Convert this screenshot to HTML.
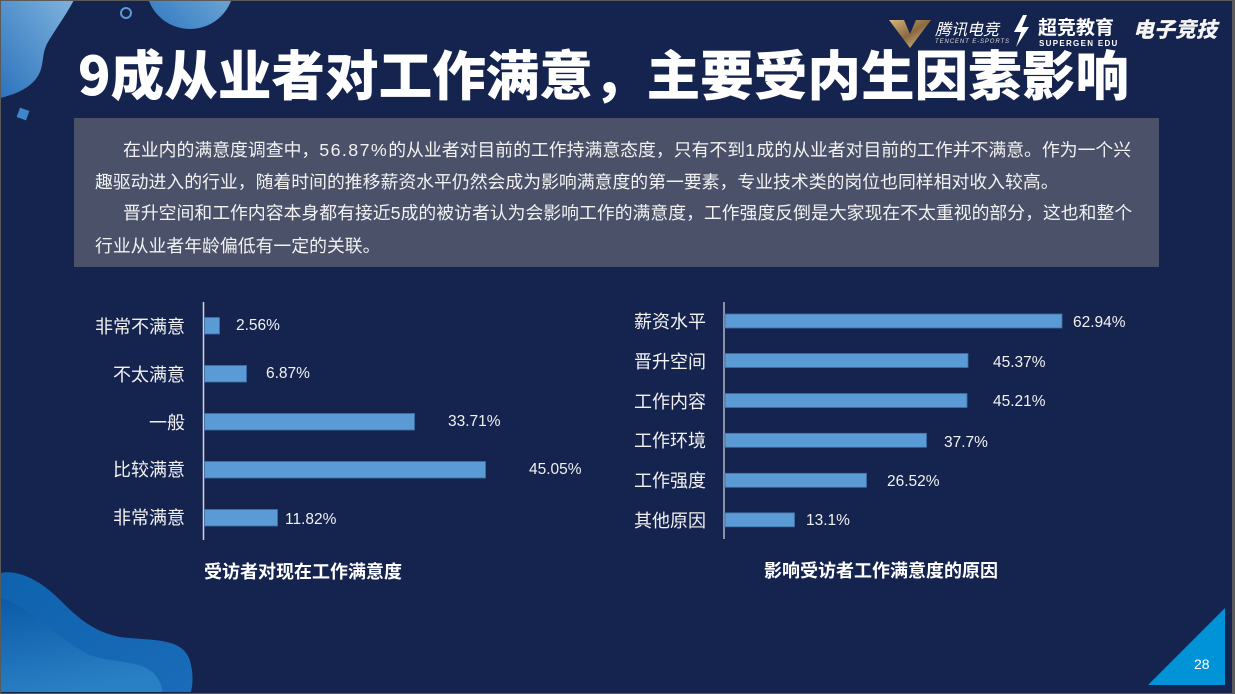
<!DOCTYPE html>
<html><head><meta charset="utf-8">
<style>
*{margin:0;padding:0;box-sizing:border-box}
html,body{width:1235px;height:694px;overflow:hidden;background:#5a5a5a}
#s{position:absolute;left:1px;top:1px;width:1231px;height:692px;background:#15234f;overflow:hidden;font-family:"Liberation Sans","Noto Sans CJK SC",sans-serif;color:#fff}
.a{position:absolute;white-space:nowrap}
.t{font-family:"Noto Sans CJK SC","WenQuanYi Zen Hei",sans-serif;font-weight:900;font-size:53.6px;line-height:54px;left:77px;top:45px;letter-spacing:0px}
.p{font-family:"Liberation Sans","Noto Sans CJK SC",sans-serif;font-size:17.85px;line-height:20px;color:#f2f2f2}
.p span{letter-spacing:1.4px}
.c{font-family:"Noto Sans CJK SC",sans-serif;font-size:18px;line-height:24px;height:24px;color:#f2f2f2;text-align:right;width:120px}
.v{font-family:"Liberation Sans",sans-serif;font-size:15.5px;line-height:20px;height:20px;color:#f2f2f2}
.h{font-family:"Noto Sans CJK SC",sans-serif;font-weight:700;font-size:18px;line-height:24px;color:#fff}
</style></head><body>
<div id="s">
<svg width="1231" height="692" style="position:absolute;left:-1px;top:-1px" xmlns="http://www.w3.org/2000/svg">
<defs>
<linearGradient id="g1" x1="0" y1="1" x2="1" y2="0"><stop offset="0" stop-color="#2c73bd"/><stop offset="1" stop-color="#7fb3dd"/></linearGradient>
<linearGradient id="g2" x1="0" y1="1" x2="1" y2="0"><stop offset="0" stop-color="#2f78c0"/><stop offset="1" stop-color="#8bbbe0"/></linearGradient>
<linearGradient id="g3" x1="0" y1="0" x2="1" y2="1"><stop offset="0" stop-color="#0f62ae"/><stop offset="1" stop-color="#1a6cb8"/></linearGradient>
<linearGradient id="g4" x1="0" y1="0" x2="0.3" y2="1"><stop offset="0" stop-color="#0b5aa7"/><stop offset="1" stop-color="#2a80c4"/></linearGradient>
<linearGradient id="gv" x1="0" y1="0" x2="1" y2="1"><stop offset="0" stop-color="#d9b77a"/><stop offset="0.5" stop-color="#8a6a40"/><stop offset="1" stop-color="#e8cf9c"/></linearGradient>
</defs>
<path d="M0,0 L74,0 C66,15 55,30 48,42 C42,52 44,62 40,72 C34,86 18,94 0,98 Z" fill="url(#g1)"/>
<circle cx="190" cy="-15" r="44" fill="url(#g2)"/>
<circle cx="126" cy="13" r="5" fill="none" stroke="#5a9bd3" stroke-width="2"/>
<rect x="18" y="109" width="10" height="10" fill="#3f86c9" transform="rotate(20 23 114)"/>
<path d="M0,573 C20,569 42,582 60,600 C80,620 95,632 120,637 C150,641 180,637 189,658 C195,675 192,690 190,694 L0,694 Z" fill="url(#g3)"/>
<path d="M0,598 C30,606 58,640 90,655 C120,666 158,656 163,694 L0,694 Z" fill="url(#g4)"/>
<polygon points="1148,685 1225,685 1225,608" fill="#0093d8"/>
<path d="M889,20 L904,20 L910,34 L916,20 L931,20 L910,48 Z" fill="url(#gv)"/>
<path d="M1023,15 L1014,32 L1021,32 L1016,47 L1029,27 L1022,27 L1027,15 Z" fill="#fff"/>
<line x1="203.5" y1="302" x2="203.5" y2="540" stroke="#cfd3dc" stroke-width="1.5"/>
<line x1="724" y1="302" x2="724" y2="539" stroke="#8a90a8" stroke-width="2"/>
<g fill="#5b9bd5" stroke="#3f6fa6" stroke-width="0.8">
<rect x="204.5" y="317.5" width="15" height="16.5"/>
<rect x="204.5" y="365.5" width="42" height="16.5"/>
<rect x="204.5" y="413.5" width="210" height="16.5"/>
<rect x="204.5" y="461.5" width="281" height="16.5"/>
<rect x="204.5" y="509.5" width="73" height="16.5"/>
<rect x="725" y="314" width="337" height="14"/>
<rect x="725" y="353.5" width="243" height="14"/>
<rect x="725" y="393.5" width="242" height="14"/>
<rect x="725" y="433.3" width="201.5" height="14"/>
<rect x="725" y="473.3" width="141.5" height="14"/>
<rect x="725" y="512.8" width="69.5" height="14"/>
</g>
</svg>

<div class="a" style="left:934px;top:17px;font-family:'Noto Sans CJK SC',sans-serif;font-size:16px;line-height:20px;font-style:italic;color:#fff">腾讯电竞</div>
<div class="a" style="left:934px;top:37px;font-family:'Liberation Sans',sans-serif;font-size:6px;line-height:8px;font-style:italic;letter-spacing:0.9px;color:#ddd">TENCENT E-SPORTS</div>
<div class="a" style="left:1037px;top:14px;font-family:'Noto Sans CJK SC',sans-serif;font-weight:700;font-size:19px;line-height:24px;color:#fff">超竞教育</div>
<div class="a" style="left:1038px;top:38px;font-family:'Liberation Sans',sans-serif;font-weight:700;font-size:8px;line-height:9px;letter-spacing:1.3px;color:#fff">SUPERGEN EDU</div>
<div class="a" style="left:1132px;top:15px;font-family:'Noto Sans CJK SC',sans-serif;font-weight:900;font-size:21px;line-height:26px;font-style:italic;color:#f4f4f4">电子竞技</div>

<div class="a t">9成从业者对工作满意，主要受内生因素影响</div>

<div class="a" style="left:73px;top:117px;width:1085px;height:149px;background:#4a5168"></div>
<div class="a p" style="left:122px;top:139px">在业内的满意度调查中，<span>56.87%</span>的从业者对目前的工作持满意态度，只有不到<span>1</span>成的从业者对目前的工作并不满意。作为一个兴</div>
<div class="a p" style="left:94px;top:171px">趣驱动进入的行业，随着时间的推移薪资水平仍然会成为影响满意度的第一要素，专业技术类的岗位也同样相对收入较高。</div>
<div class="a p" style="left:122px;top:202px">晋升空间和工作内容本身都有接近5成的被访者认为会影响工作的满意度，工作强度反倒是大家现在不太重视的部分，这也和整个</div>
<div class="a p" style="left:94px;top:235px">行业从业者年龄偏低有一定的关联。</div>

<div class="a c" style="left:64px;top:313px">非常不满意</div>
<div class="a c" style="left:64px;top:361px">不太满意</div>
<div class="a c" style="left:64px;top:409px">一般</div>
<div class="a c" style="left:64px;top:456px">比较满意</div>
<div class="a c" style="left:64px;top:504px">非常满意</div>
<div class="a v" style="left:235px;top:315px">2.56%</div>
<div class="a v" style="left:265px;top:363px">6.87%</div>
<div class="a v" style="left:447px;top:411px">33.71%</div>
<div class="a v" style="left:528px;top:459px">45.05%</div>
<div class="a v" style="left:284px;top:509px">11.82%</div>
<div class="a h" style="left:203px;top:558px">受访者对现在工作满意度</div>

<div class="a c" style="left:585px;top:308px">薪资水平</div>
<div class="a c" style="left:585px;top:348px">晋升空间</div>
<div class="a c" style="left:585px;top:388px">工作内容</div>
<div class="a c" style="left:585px;top:427px">工作环境</div>
<div class="a c" style="left:585px;top:467px">工作强度</div>
<div class="a c" style="left:585px;top:507px">其他原因</div>
<div class="a v" style="left:1072px;top:312px">62.94%</div>
<div class="a v" style="left:992px;top:352px">45.37%</div>
<div class="a v" style="left:992px;top:391px">45.21%</div>
<div class="a v" style="left:943px;top:432px">37.7%</div>
<div class="a v" style="left:886px;top:471px">26.52%</div>
<div class="a v" style="left:805px;top:510px">13.1%</div>
<div class="a h" style="left:763px;top:557px">影响受访者工作满意度的原因</div>

<div class="a" style="left:1193px;top:654px;font-family:'Liberation Sans',sans-serif;font-size:14px;line-height:18px;color:#fff">28</div>
</div>
</body></html>
